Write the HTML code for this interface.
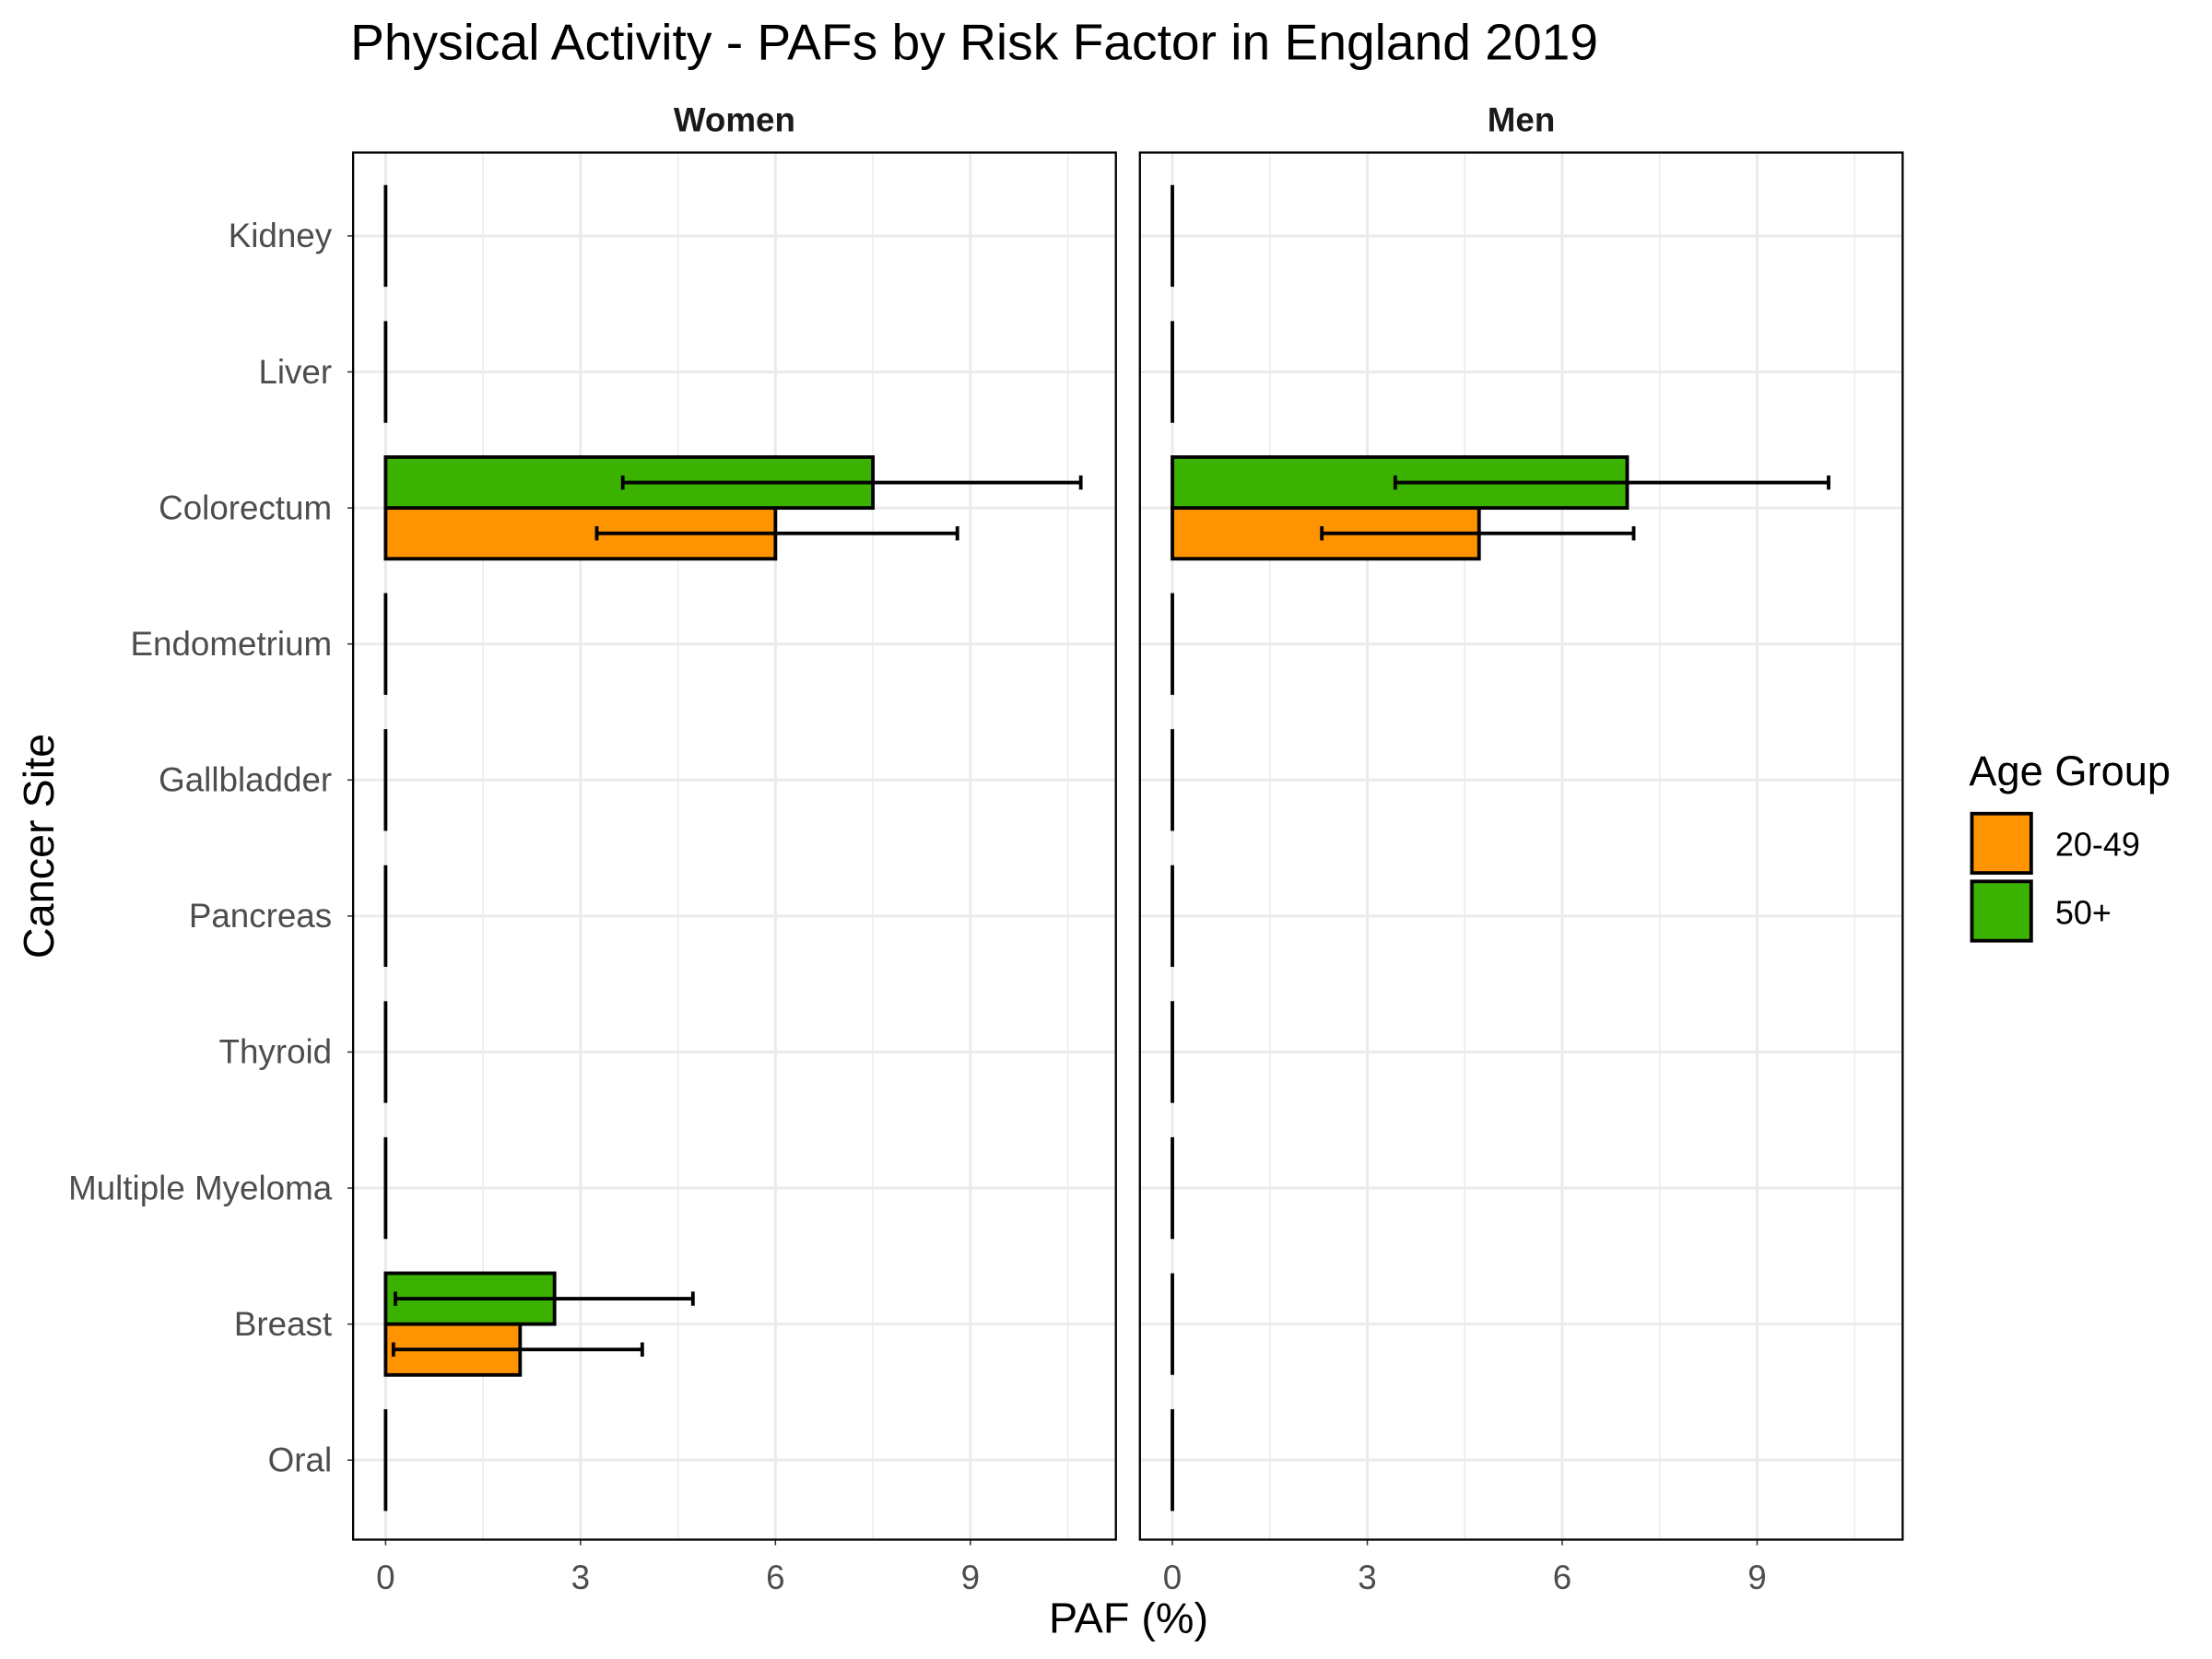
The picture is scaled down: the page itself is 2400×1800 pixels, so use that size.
<!DOCTYPE html>
<html><head><meta charset="utf-8"><style>
html,body{margin:0;padding:0;background:#fff;}
svg{display:block;font-family:"Liberation Sans",Arial,sans-serif;}
</style></head><body>
<svg id="chart" width="2400" height="1800" viewBox="0 0 1566 1174.5" xmlns="http://www.w3.org/2000/svg">
<text x="248" y="42" font-size="36" fill="#000">Physical Activity  - PAFs by Risk Factor in England 2019</text>
<text transform="translate(38,599) rotate(-90)" text-anchor="middle" font-size="30.5" fill="#000">Cancer Site</text>
<text x="799" y="1156" text-anchor="middle" font-size="30.5" fill="#000">PAF (%)</text>
<g>
<text x="1394" y="556" font-size="29.5" fill="#000">Age Group</text>
<rect x="1396" y="576" width="42" height="42" fill="#FF9400" stroke="#000" stroke-width="2.5"/>
<rect x="1396" y="624" width="42" height="42" fill="#3BB100" stroke="#000" stroke-width="2.5"/>
<text x="1455" y="606" font-size="23.5" fill="#000">20-49</text>
<text x="1455" y="654" font-size="23.5" fill="#000">50+</text>
</g>
<g id="plot"></g>
</svg>
<script>
const categories=["Kidney","Liver","Colorectum","Endometrium","Gallbladder","Pancreas","Thyroid","Multiple Myeloma","Breast","Oral"];
const panels=["Women","Men"];
const women_2049=[0,0,6.0,0,0,0,0,0,2.07,0];
const women_2049_lo=[0,0,3.25,0,0,0,0,0,0.12,0];
const women_2049_hi=[0,0,8.8,0,0,0,0,0,3.95,0];
const women_50=[0,0,7.5,0,0,0,0,0,2.6,0];
const women_50_lo=[0,0,3.65,0,0,0,0,0,0.15,0];
const women_50_hi=[0,0,10.7,0,0,0,0,0,4.73,0];
const men_2049=[0,0,4.72,0,0,0,0,0,0,0];
const men_2049_lo=[0,0,2.3,0,0,0,0,0,0,0];
const men_2049_hi=[0,0,7.1,0,0,0,0,0,0,0];
const men_50=[0,0,7.0,0,0,0,0,0,0,0];
const men_50_lo=[0,0,3.43,0,0,0,0,0,0,0];
const men_50_hi=[0,0,10.1,0,0,0,0,0,0,0];
const xTicks=[0,3,6,9];
const xMinor=[1.5,4.5,7.5,10.5];

const NS="http://www.w3.org/2000/svg";
const g=document.getElementById('plot');
function mk(t,a,p){const e=document.createElementNS(NS,t);for(const k in a)e.setAttribute(k,a[k]);(p||g).appendChild(e);return e;}
const panelX=[250,807],pw=540,pTop=108,pBot=1090;
const xmin=-0.5,xmax=11.24;
const rowTop=167,rowStep=96.3,barH=36;
function yC(i){return rowTop+i*rowStep;}
const data=[[women_2049,women_2049_lo,women_2049_hi,women_50,women_50_lo,women_50_hi],[men_2049,men_2049_lo,men_2049_hi,men_50,men_50_lo,men_50_hi]];
panels.forEach((pn,pi)=>{
  const x0=panelX[pi];
  const X=v=>x0+(v-xmin)/(xmax-xmin)*pw;
  const pg=mk('g',{});
  
  
  const st=mk('text',{x:x0+pw/2,y:93,'text-anchor':'middle','font-size':24,'font-weight':'bold',fill:'#1a1a1a'},pg);
  st.textContent=pn;
  
  
  xMinor.forEach(v=>{const l=mk('line',{x1:X(v),x2:X(v),y1:pTop,y2:pBot,stroke:'#ebebeb','stroke-width':1},pg);
    
    });
  xTicks.forEach(v=>{const l=mk('line',{x1:X(v),x2:X(v),y1:pTop,y2:pBot,stroke:'#ebebeb','stroke-width':2},pg);
    
    
    mk('line',{x1:X(v),x2:X(v),y1:pBot,y2:pBot+4,stroke:'#333','stroke-width':1},pg);
    const t=mk('text',{x:X(v),y:pBot+35,'text-anchor':'middle','font-size':24,fill:'#4d4d4d'},pg);
    t.textContent=v;
    
    });
  categories.forEach((c,i)=>{const l=mk('line',{x1:x0,x2:x0+pw,y1:yC(i),y2:yC(i),stroke:'#ebebeb','stroke-width':2},pg);
    
    
    if(pi===0){mk('line',{x1:x0-4,x2:x0,y1:yC(i),y2:yC(i),stroke:'#333','stroke-width':1},pg);
      const t=mk('text',{x:x0-15,y:yC(i)+8,'text-anchor':'end','font-size':24,fill:'#4d4d4d'},pg);
      t.textContent=c;
      
      }
  });
  const d=data[pi];
  const series=[{v:d[0],lo:d[1],hi:d[2],fill:'#FF9400',off:0,n:'20-49'},{v:d[3],lo:d[4],hi:d[5],fill:'#3BB100',off:-barH,n:'50plus'}];
  categories.forEach((c,i)=>{
    if(series.every(s=>s.v[i]===0)){
      const l=mk('line',{x1:X(0),x2:X(0),y1:yC(i)-barH,y2:yC(i)+barH,stroke:'#000','stroke-width':2.5},pg);
      
      
      return;}
    series.forEach(s=>{
      const y=yC(i)+s.off;
      const r=mk('rect',{x:X(0),y:y,width:X(s.v[i])-X(0),height:barH,fill:s.fill,stroke:'#000','stroke-width':2.5},pg);
      
      
      const ym=y+barH/2;
      const e=mk('path',{d:`M${X(s.lo[i])},${ym}H${X(s.hi[i])}M${X(s.lo[i])},${ym-5}V${ym+5}M${X(s.hi[i])},${ym-5}V${ym+5}`,stroke:'#000','stroke-width':2.5,fill:'none'},pg);
      
      
    });
  });
  const b=mk('rect',{x:x0,y:pTop,width:pw,height:pBot-pTop,fill:'none',stroke:'#000','stroke-width':1.5},pg);
  
  
});
</script>
</body></html>
